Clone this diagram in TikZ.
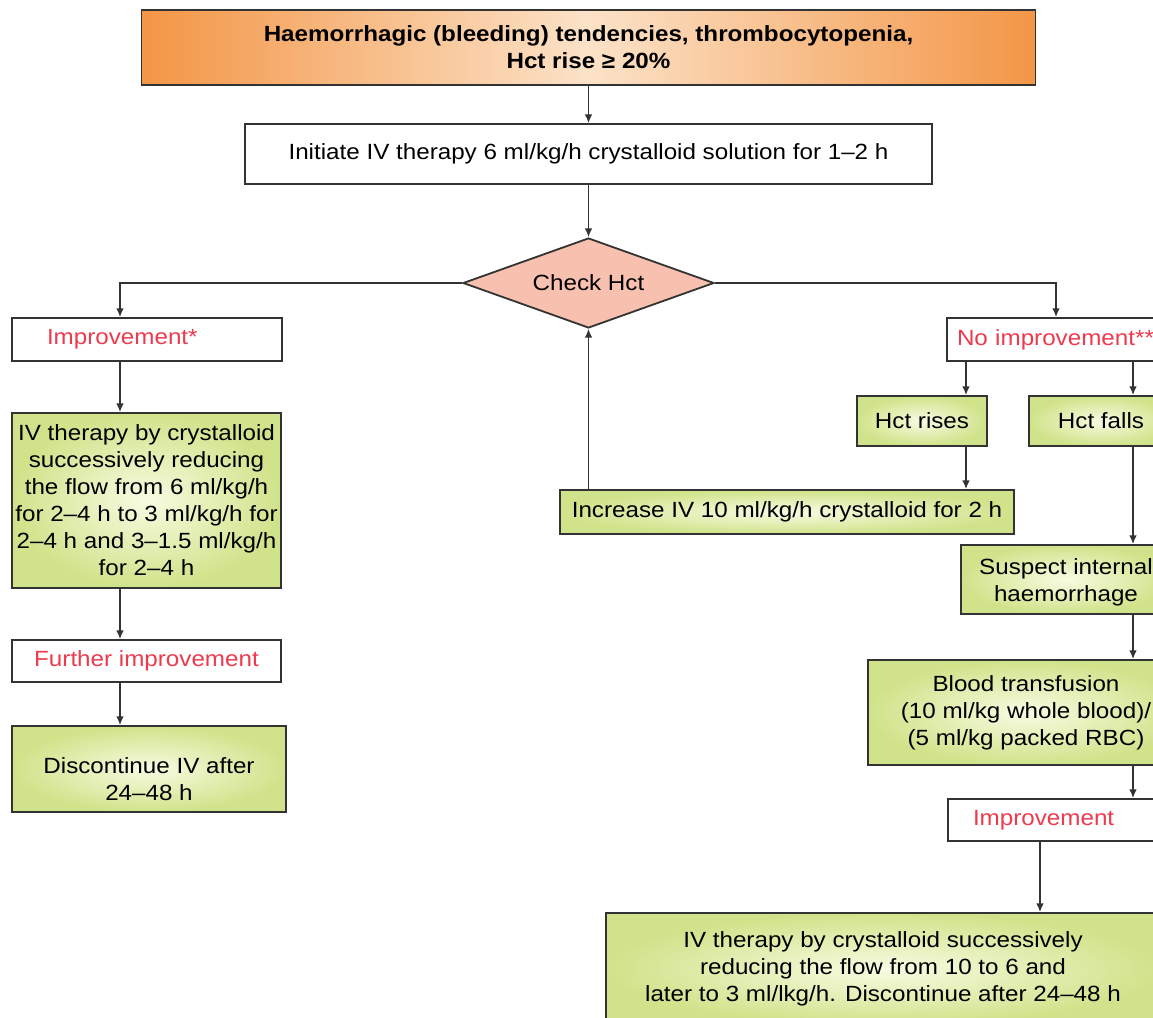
\documentclass[tikz,border=0pt]{standalone}
\usepackage{fontspec}
\setsansfont{Liberation Sans}[FakeStretch=1.1]
\usetikzlibrary{arrows, arrows.meta}
\usetikzlibrary{shapes}
\definecolor{boxLine}{HTML}{333333}
\definecolor{noteRed}{HTML}{EE3A4E}
\definecolor{greenIn}{HTML}{F8FBE2}
\definecolor{greenOut}{HTML}{D0E38A}
\definecolor{orangeEdge}{HTML}{F39646}
\definecolor{orangeMid}{HTML}{FCE2C8}
\definecolor{checkFill}{HTML}{F8C0AF}

\begin{document}
\begin{tikzpicture}[x = 0.5pt, y = -0.5pt, font=\sffamily\fontsize{11}{13.5}\selectfont, >={Latex[length=4.4pt, width=3.8pt]}]
	\tikzstyle{plainStyle} = [shape = rectangle, draw = boxLine, line width = 0.9pt, fill = white, inner sep = 1pt, align = center]
	\tikzstyle{greenStyle} = [plainStyle, inner color = greenIn, outer color = greenOut]
	\tikzstyle{noteStyle} = [plainStyle, text = noteRed, align = left]
	\tikzstyle{linkStyle} = [->, draw = boxLine, line width = 0.75pt]
	\path[use as bounding box, clip] (0,0) rectangle (1153,1018);
	\node[plainStyle, left color = orangeEdge, right color = orangeEdge, middle color = orangeMid, minimum width = 447pt, minimum height = 37.5pt, font = \sffamily\bfseries\fontsize{11}{13.5}\selectfont] (top) at (588.5,47.5) {Haemorrhagic (bleeding) tendencies, thrombocytopenia,\\Hct rise ≥ 20\%};
	\node[plainStyle, minimum width = 343.5pt, minimum height = 30pt] (init) at (588.5,154) {Initiate IV therapy 6 ml/kg/h crystalloid solution for 1–2 h};
	\node[shape = diamond, draw = boxLine, line width = 0.9pt, fill = checkFill, aspect = 2.8, inner sep = 0pt, minimum width = 125.5pt, minimum height = 45pt] (check) at (588.5,283) {Check Hct};
	\node[noteStyle, text width = 100pt, inner xsep = 17.5pt, minimum height = 21.5pt] (impL) at (147,339.5) {Improvement*};
	\node[greenStyle, minimum width = 134.5pt, minimum height = 87.5pt] (ivL) at (146.5,500.5) {IV therapy by crystalloid\\successively reducing\\the flow from 6 ml/kg/h\\for 2–4 h to 3 ml/kg/h for\\2–4 h and 3–1.5 ml/kg/h\\for 2–4 h};
	\node[plainStyle, text = noteRed, minimum width = 134.5pt, minimum height = 21pt] (furL) at (146.5,661) {Further improvement};
	\node[greenStyle, minimum width = 137pt, minimum height = 43pt] (discL) at (149,769) {\rule{0pt}{18pt}Discontinue IV after\\24–48 h};
	\node[noteStyle, text width = 106.5pt, inner xsep = 5pt, minimum height = 21.5pt] (noimp) at (1063.5,339.5) {No improvement**};
	\node[greenStyle, minimum width = 65pt, minimum height = 25pt] (rises) at (922,421) {Hct rises};
	\node[greenStyle, minimum width = 72pt, minimum height = 25pt] (falls) at (1101,421) {Hct falls};
	\node[greenStyle, minimum width = 227pt, minimum height = 22pt] (incr) at (787,512) {Increase IV 10 ml/kg/h crystalloid for 2 h};
	\node[greenStyle, minimum width = 105pt, minimum height = 34.5pt] (susp) at (1066,579.5) {\rule{0pt}{11pt}Suspect internal\\haemorrhage};
	\node[greenStyle, minimum width = 158pt, minimum height = 52.5pt] (blood) at (1026,712.5) {Blood transfusion\\(10 ml/kg whole blood)/\\(5 ml/kg packed RBC)};
	\node[noteStyle, text width = 81pt, inner xsep = 12.5pt, minimum height = 21pt] (impR) at (1054,820) {Improvement};
	\node[greenStyle, minimum width = 277pt, minimum height = 56pt] (final) at (883,969) {IV therapy by crystalloid successively\\reducing the flow from 10 to 6 and\\later to 3 ml/lkg/h. Discontinue after 24–48 h};
	\coordinate (colL) at (120,0);
	\coordinate (colNo) at (1056,0);
	\coordinate (colMid) at (966,0);
	\coordinate (colR) at (1133,0);
	\coordinate (colImp) at (1040,0);
	\draw[linkStyle] (top.south) -- (init.north);
	\draw[linkStyle] (init.south) -- (check.north);
	\draw[linkStyle] (check.west) -| (impL.north -| colL);
	\draw[linkStyle] (impL.south -| colL) -- (ivL.north -| colL);
	\draw[linkStyle] (ivL.south -| colL) -- (furL.north -| colL);
	\draw[linkStyle] (furL.south -| colL) -- (discL.north -| colL);
	\draw[linkStyle] (check.east) -| (noimp.north -| colNo);
	\draw[linkStyle] (noimp.south -| colMid) -- (rises.north -| colMid);
	\draw[linkStyle] (noimp.south -| colR) -- (falls.north -| colR);
	\draw[linkStyle] (rises.south -| colMid) -- (incr.north -| colMid);
	\draw[linkStyle] (incr.north -| check.south) -- (check.south);
	\draw[linkStyle] (falls.south -| colR) -- (susp.north -| colR);
	\draw[linkStyle] (susp.south -| colR) -- (blood.north -| colR);
	\draw[linkStyle] (blood.south -| colR) -- (impR.north -| colR);
	\draw[linkStyle] (impR.south -| colImp) -- (final.north -| colImp);
\end{tikzpicture}
\end{document}
